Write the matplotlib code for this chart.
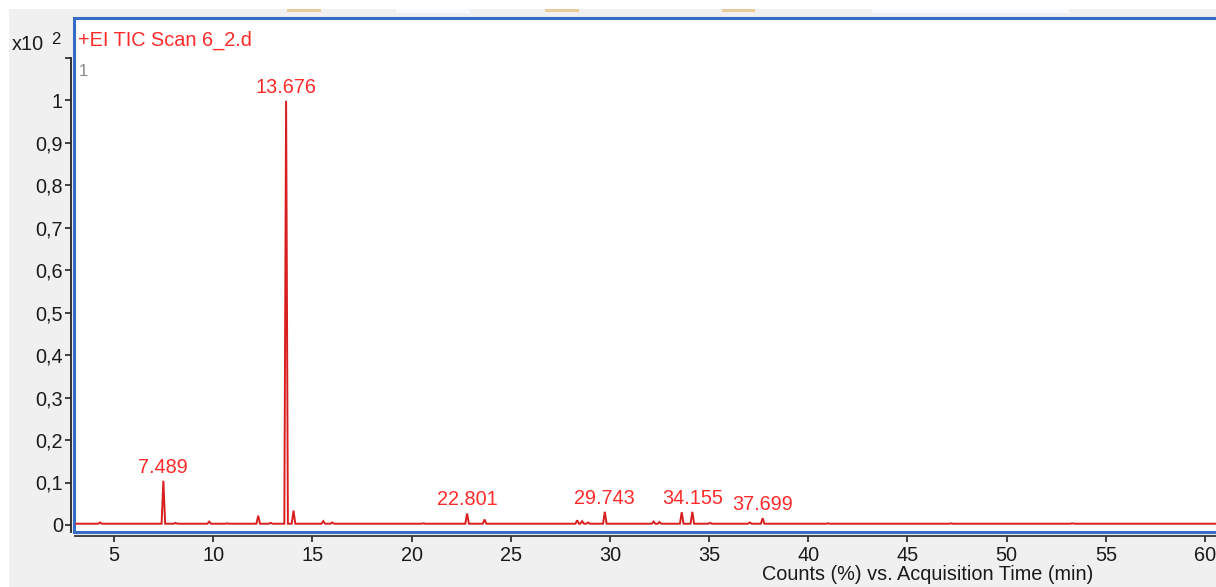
import matplotlib
matplotlib.use("Agg")
import matplotlib.pyplot as plt
from matplotlib.patches import Rectangle, FancyBboxPatch
from matplotlib.ticker import FuncFormatter, FixedLocator

# chromatogram peaks (retention time in min, height in x10^2 counts %)
peak_rt = [4.3, 7.489, 8.1, 9.8, 10.7, 12.27, 12.9, 13.676, 14.05, 15.55, 16.0,
           20.6, 22.801, 23.68, 28.35, 28.6, 28.9, 29.743, 32.2, 32.5, 33.62,
           34.155, 35.05, 37.05, 37.699, 41.0, 47.2, 53.3]
peak_h = [0.006, 0.104, 0.005, 0.008, 0.004, 0.022, 0.005, 0.998, 0.034, 0.009, 0.006,
          0.004, 0.027, 0.013, 0.011, 0.009, 0.006, 0.031, 0.008, 0.007, 0.030,
          0.031, 0.005, 0.006, 0.016, 0.004, 0.004, 0.004]
baseline = 0.003
rt_start, rt_end = 3.1, 60.55

labelled_rt = [7.489, 13.676, 22.801, 29.743, 34.155, 37.699]

x_ticks = [5, 10, 15, 20, 25, 30, 35, 40, 45, 50, 55, 60]
y_ticks = [0, 0.1, 0.2, 0.3, 0.4, 0.5, 0.6, 0.7, 0.8, 0.9, 1.0]

W, H = 1216, 587
RED = "#d81e1e"
LBL = "#ff2a2a"
BLUE = "#356dc6"
FS = 14.3
plt.rcParams['font.family'] = ['Liberation Sans', 'DejaVu Sans']

fig = plt.figure(figsize=(W / 100, H / 100), dpi=100)
fig.patch.set_facecolor("#f0f0f0")

def fx(px):
    return px / W

def fy(py):
    return 1 - py / H

# white strips of the window and small tabs at the top
fig.add_artist(Rectangle((0, fy(9)), 1, 9 / H, transform=fig.transFigure,
                         facecolor="white", edgecolor="none", zorder=-2))
fig.add_artist(Rectangle((0, 0), fx(9), 1, transform=fig.transFigure,
                         facecolor="white", edgecolor="none", zorder=-2))
for x0, x1 in [(287, 321), (545, 579), (722, 755)]:
    fig.add_artist(FancyBboxPatch((fx(x0), fy(12)), fx(x1 - x0), 3 / H,
                                  boxstyle="round,pad=0", transform=fig.transFigure,
                                  facecolor="#e9cb9c", edgecolor="none", zorder=-2))
for x0, x1 in [(396, 470), (872, 1069)]:
    fig.add_artist(Rectangle((fx(x0), fy(13)), fx(x1 - x0), 4 / H,
                             transform=fig.transFigure, facecolor="#f7fafd",
                             edgecolor="none", zorder=-2))

# white plot panel with blue frame
fig.add_artist(Rectangle((fx(74), fy(532)), fx(W + 20 - 74), (532 - 18) / H,
                         transform=fig.transFigure, facecolor="white",
                         edgecolor=BLUE, linewidth=2.2, zorder=-1))

# data axes: left at px 75, bottom at px 536, top at px 19
ax = fig.add_axes([fx(75), fy(536), fx(W - 75), (536 - 19) / H])
ax.set_facecolor("none")

px_per_min = (1205 - 114) / 55.0
x0 = 5 - (114 - 75) / px_per_min
ax.set_xlim(x0, x0 + (W - 75) / px_per_min)
px_per_unit = 425.0
ax.set_ylim(-(536 - 525) / px_per_unit, (525 - 19) / px_per_unit)

# build trace from the peak list
xs = [rt_start]
ys = [baseline]
w = 0.09
for t, h in zip(peak_rt, peak_h):
    xs += [t - w, t, t + w]
    ys += [baseline, h, baseline]
xs.append(rt_end)
ys.append(baseline)
ax.plot(xs, ys, color=RED, linewidth=1.4, solid_joinstyle="miter", clip_on=False)

# peak labels
for t in labelled_rt:
    h = peak_h[peak_rt.index(t)]
    ax.annotate(f"{t:.3f}", (t, h), xytext=(0, 3), textcoords="offset points",
                ha="center", va="bottom", color=LBL, fontsize=FS)

# axes styling
for s in ["top", "right"]:
    ax.spines[s].set_visible(False)
ax.spines["left"].set_position(("outward", 2.6))
ax.spines["left"].set_bounds(-(532 - 525) / px_per_unit, (525 - 58) / px_per_unit)
ax.spines["left"].set_linewidth(1.3)
ax.spines["bottom"].set_linewidth(1.3)
ax.spines["bottom"].set_color("#333333")
ax.spines["left"].set_color("#222222")

ax.xaxis.set_major_locator(FixedLocator(x_ticks))
ax.yaxis.set_major_locator(FixedLocator(y_ticks + [(525 - 58) / px_per_unit]))
ax.yaxis.set_major_formatter(FuncFormatter(
    lambda v, p: "" if v > 1.05 else ("0" if v == 0 else ("1" if v == 1 else f"{v:.1f}".replace(".", ",")))))
ax.tick_params(axis="both", direction="out", length=4, width=1.2, colors="#222222",
               labelsize=FS, labelcolor="#1a1a1a")
ax.tick_params(axis="x", pad=3)
ax.tick_params(axis="y", pad=2)

# axis title under the right part of the x axis
fig.text(fx(928), fy(574), "Counts (%) vs. Acquisition Time (min)", fontsize=FS,
         color="#1a1a1a", ha="center", va="center")

# header texts
fig.text(fx(12), fy(45), "x10", fontsize=FS, color="#1a1a1a", va="center", ha="left")
fig.text(fx(51), fy(39), "2", fontsize=12, color="#1a1a1a", va="center", ha="left")
fig.text(fx(78), fy(40), "+EI TIC Scan 6_2.d", fontsize=FS, color=LBL, va="center", ha="left")
fig.text(fx(79), fy(72), "1", fontsize=12, color="#8a8a8a", va="center", ha="left")

fig.savefig("out.png", dpi=100, facecolor=fig.get_facecolor())
